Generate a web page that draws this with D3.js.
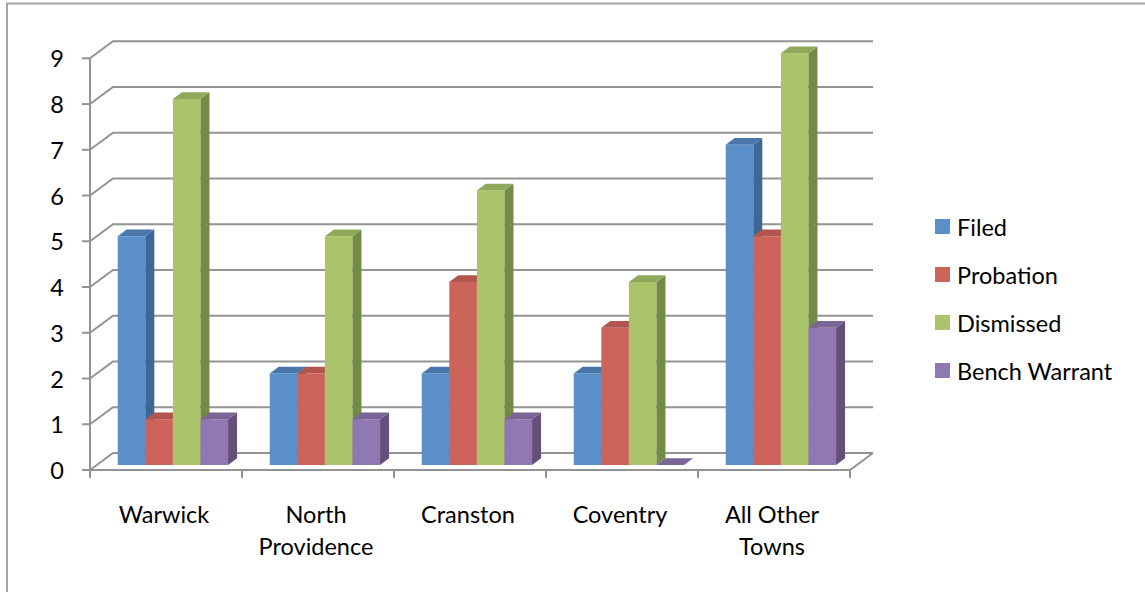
<!DOCTYPE html>
<html>
<head>
<meta charset="utf-8">
<script src="https://cdn.jsdelivr.net/npm/d3@7"></script>
<style>
  html, body { margin: 0; padding: 0; background: #fff; }
  svg { display: block; }
  text { font-family: Lato, "Open Sans", sans-serif; fill: #000; }
</style>
</head>
<body>
<svg id="chart" width="1145" height="592"></svg>
<script>
// ---- data ----
const categories = ["Warwick", "North Providence", "Cranston", "Coventry", "All Other Towns"];
const seriesNames = ["Filed", "Probation", "Dismissed", "Bench Warrant"];
const filed        = [5, 2, 2, 2, 7];
const probation    = [1, 2, 4, 3, 5];
const dismissed    = [8, 5, 6, 4, 9];
const benchWarrant = [1, 1, 1, 0, 3];
const yTicks = [0, 1, 2, 3, 4, 5, 6, 7, 8, 9];

const seriesValues = [filed, probation, dismissed, benchWarrant];
// face colours: front, side, top
const colors = {
  "Filed":         { front: "#5b8fca", side: "#3e6796", top: "#4a77aa", legend: "#5b8fca" },
  "Probation":     { front: "#cd645a", side: "#a04a44", top: "#b3554f", legend: "#cd645a" },
  "Dismissed":     { front: "#abc36a", side: "#728c45", top: "#8fa95a", legend: "#abc36a" },
  "Bench Warrant": { front: "#9079b0", side: "#654f7d", top: "#7a6597", legend: "#9079b0" }
};

const FS = "23.5px";
const svg = d3.select("#chart");

// ---- scales ----
const x = d3.scaleBand().domain(categories).range([90, 850])
  .paddingInner(0.274).paddingOuter(0.137);
const xs = d3.scaleBand().domain(seriesNames).range([0, x.bandwidth()]);
const y = d3.scaleLinear().domain([0, 9]).range([470, 58.3]);
const DX = 23, DY = 17;           // full depth offset
const Z0 = 0.3, Z1 = 0.69;        // bar depth range
function P(px, v, z) { return [px + DX * z, y(v) - DY * z]; }
function poly(pts) { return "M" + pts.map(p => p[0].toFixed(2) + "," + p[1].toFixed(2)).join("L") + "Z"; }

// ---- border ----
svg.append("rect").attr("x", 7).attr("y", 3.5).attr("width", 1200).attr("height", 700)
  .attr("fill", "none").attr("stroke", "#a3a3a3").attr("stroke-width", 2);

const gridColor = "#939393", gw = 2;
const g = svg.append("g");
const x0 = x.range()[0], x1 = x.range()[1];

// back wall and side wall gridlines
yTicks.forEach(v => {
  const a = P(x0, v, 0), b = P(x0, v, 1), c = P(x1, v, 1);
  g.append("path").attr("d", `M${a}L${b}L${c}`).attr("fill", "none")
    .attr("stroke", gridColor).attr("stroke-width", gw);
});
// floor front and right edges
{
  const a = P(x0, 0, 0), b = P(x1, 0, 0), c = P(x1, 0, 1);
  g.append("path").attr("d", `M${a}L${b}L${c}`).attr("fill", "none")
    .attr("stroke", gridColor).attr("stroke-width", gw);
}
// vertical axis line
g.append("line").attr("x1", x0).attr("x2", x0).attr("y1", y(0)).attr("y2", y(9))
  .attr("stroke", gridColor).attr("stroke-width", gw);
// y ticks + labels
yTicks.forEach(v => {
  g.append("line").attr("x1", x0 - 8).attr("x2", x0).attr("y1", y(v)).attr("y2", y(v))
    .attr("stroke", gridColor).attr("stroke-width", gw);
  g.append("text").attr("x", 64).attr("y", y(v)).attr("text-anchor", "end")
    .attr("dominant-baseline", "central").style("font-size", FS).text(v);
});
// category ticks
const step = x.step();
d3.range(categories.length + 1).forEach(i => {
  const px = x0 + i * step;
  g.append("line").attr("x1", px).attr("x2", px).attr("y1", y(0)).attr("y2", y(0) + 8)
    .attr("stroke", gridColor).attr("stroke-width", gw);
});

// ---- bars ----
const bars = svg.append("g");
categories.forEach((cat, ci) => {
  seriesNames.forEach((s, si) => {
    const v = seriesValues[si][ci];
    const bx0 = x(cat) + xs(s), bx1 = bx0 + xs.bandwidth();
    const col = colors[s];
    bars.append("path").attr("d", poly([P(bx0, 0, Z0), P(bx1, 0, Z0), P(bx1, v, Z0), P(bx0, v, Z0)]))
      .attr("fill", col.front);
    bars.append("path").attr("d", poly([P(bx1, 0, Z0), P(bx1, v, Z0), P(bx1, v, Z1), P(bx1, 0, Z1)]))
      .attr("fill", col.side);
    bars.append("path").attr("d", poly([P(bx0, v, Z0), P(bx1, v, Z0), P(bx1, v, Z1), P(bx0, v, Z1)]))
      .attr("fill", col.top);
  });
});

// ---- category labels ----
const labelG = svg.append("g");
function wrapLines(text, maxW) {
  const words = text.split(" ");
  const lines = [];
  let cur = "";
  const tmp = labelG.append("text").style("font-size", FS);
  words.forEach(w => {
    const test = cur ? cur + " " + w : w;
    tmp.text(test);
    if (tmp.node().getComputedTextLength() > maxW && cur) { lines.push(cur); cur = w; }
    else cur = test;
  });
  lines.push(cur);
  tmp.remove();
  return lines;
}
categories.forEach(cat => {
  const cx = x(cat) + x.bandwidth() / 2 - 2;
  const lines = wrapLines(cat, 135);
  lines.forEach((ln, li) => {
    labelG.append("text").attr("x", cx).attr("y", 514 + li * 32)
      .attr("text-anchor", "middle").attr("dominant-baseline", "central")
      .style("font-size", FS).text(ln);
  });
});

// ---- legend ----
const leg = svg.append("g");
seriesNames.forEach((s, i) => {
  const cy = 227 + i * 48;
  leg.append("rect").attr("x", 935).attr("y", cy - 8).attr("width", 15).attr("height", 15)
    .attr("fill", colors[s].legend);
  leg.append("text").attr("x", 957).attr("y", cy).attr("dominant-baseline", "central")
    .style("font-size", FS).text(s);
});
</script>
</body>
</html>
